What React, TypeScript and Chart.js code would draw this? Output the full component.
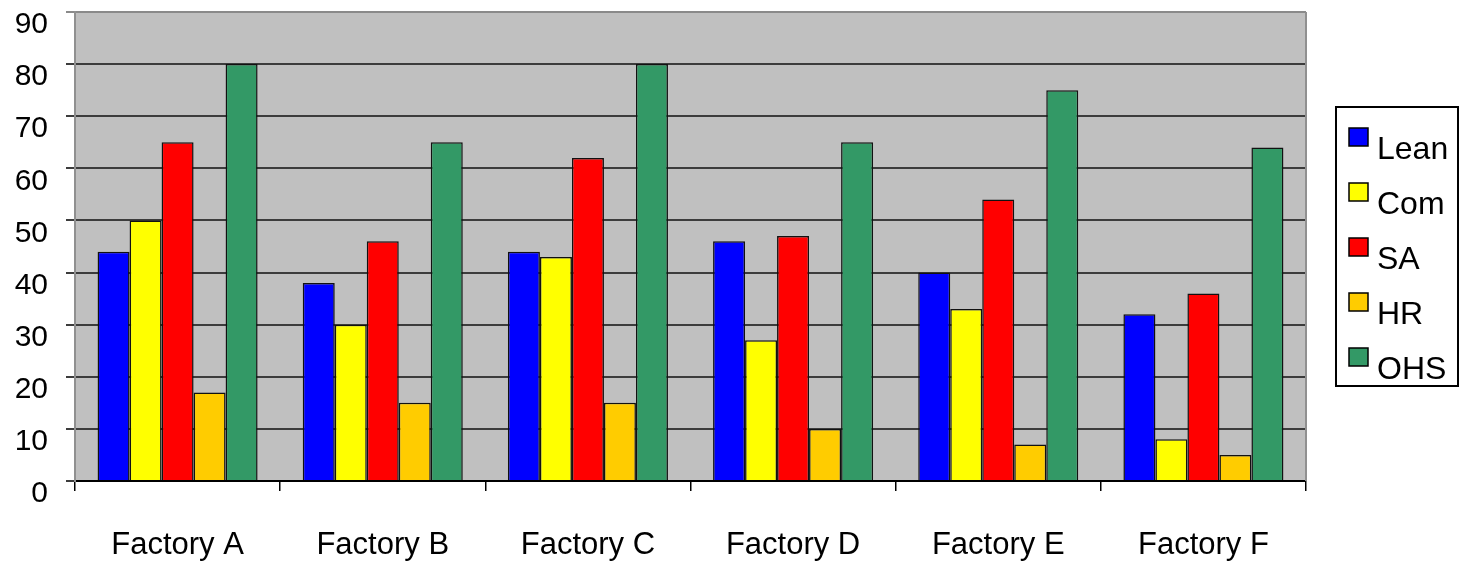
import React, { useEffect, useRef } from "react";
import { Chart, registerables } from "chart.js";

Chart.register(...registerables);

const categories = ["Factory A", "Factory B", "Factory C", "Factory D", "Factory E", "Factory F"];
const seriesNames = ["Lean", "Com", "SA", "HR", "OHS"];
const leanValues = [44, 38, 44, 46, 40, 32];
const comValues = [50, 30, 43, 27, 33, 8];
const saValues = [65, 46, 62, 47, 54, 36];
const hrValues = [17, 15, 15, 10, 7, 5];
const ohsValues = [80, 65, 80, 65, 75, 64];
const seriesColors = ["#0000FF", "#FFFF00", "#FF0000", "#FFCC00", "#339966"];
const yTickValues = [0, 10, 20, 30, 40, 50, 60, 70, 80, 90];

const FONT = "'Liberation Sans', Arial, sans-serif";

const plotBg = {
  id: "plotBg",
  beforeDraw(chart: any) {
    const { ctx, chartArea } = chart;
    ctx.save();
    ctx.fillStyle = "#C0C0C0";
    ctx.fillRect(chartArea.left, chartArea.top, chartArea.right - chartArea.left, chartArea.bottom - chartArea.top);
    ctx.restore();
  },
  afterDraw(chart: any) {
    const { ctx, chartArea } = chart;
    ctx.save();
    ctx.strokeStyle = "#909090";
    ctx.lineWidth = 2;
    ctx.beginPath();
    ctx.moveTo(chartArea.right, chartArea.top);
    ctx.lineTo(chartArea.right, chartArea.bottom);
    ctx.stroke();
    ctx.restore();
  },
};

const boxLegend = {
  id: "boxLegend",
  afterDraw(chart: any) {
    const { ctx } = chart;
    const x0 = 1336;
    const y0 = 107;
    const w = 122;
    const h = 279;
    ctx.save();
    ctx.fillStyle = "#FFFFFF";
    ctx.fillRect(x0, y0, w, h);
    ctx.strokeStyle = "#000000";
    ctx.lineWidth = 2;
    ctx.strokeRect(x0, y0, w, h);
    ctx.font = `32px ${FONT}`;
    ctx.textBaseline = "middle";
    ctx.textAlign = "left";
    chart.data.datasets.forEach((ds: any, i: number) => {
      const cy = 148 + i * 55;
      ctx.fillStyle = ds.backgroundColor;
      ctx.fillRect(1349, cy - 20, 19, 18);
      ctx.strokeStyle = "#000000";
      ctx.lineWidth = 1.5;
      ctx.strokeRect(1349, cy - 20, 19, 18);
      ctx.fillStyle = "#000000";
      ctx.fillText(ds.label, 1377, cy + 2);
    });
    ctx.restore();
  },
};

export default function App() {
  const ref = useRef<HTMLCanvasElement>(null);
  useEffect(() => {
    document.body.style.margin = "0";
    const seriesValues = [leanValues, comValues, saValues, hrValues, ohsValues];
    const chart = new Chart(ref.current as HTMLCanvasElement, {
      type: "bar",
      data: {
        labels: categories,
        datasets: seriesNames.map((name, i) => ({
          label: name,
          data: seriesValues[i],
          backgroundColor: seriesColors[i],
          borderColor: "#111111",
          borderWidth: 1.5,
          categoryPercentage: 0.78,
          barPercentage: 1.0,
        })),
      },
      options: {
        animation: false,
        responsive: false,
        devicePixelRatio: 1,
        layout: { padding: { top: 12, right: 153, left: 0, bottom: 0 } },
        plugins: { legend: { display: false }, tooltip: { enabled: false } },
        scales: {
          x: {
            afterFit: (scale: any) => {
              scale.height = 82;
              scale.paddingLeft = 0;
              scale.paddingRight = 0;
            },
            grid: {
              display: true,
              drawOnChartArea: false,
              drawTicks: true,
              tickLength: 10,
              offset: true,
              color: "#000000",
              lineWidth: 1.5,
            },
            border: { display: true, color: "#000000", width: 2 },
            ticks: {
              color: "#000000",
              font: { family: FONT, size: 31 },
              padding: 36,
              maxRotation: 0,
            },
          },
          y: {
            min: 0,
            max: 90,
            afterBuildTicks: (scale: any) => {
              scale.ticks = yTickValues.map((v) => ({ value: v }));
            },
            afterFit: (scale: any) => {
              scale.width = 75;
              scale.paddingTop = 0;
              scale.paddingBottom = 0;
            },
            grid: {
              color: (c: any) => (c.tick && c.tick.value === 90 ? "#8a8a8a" : "#3c3c3c"),
              lineWidth: 2,
              drawTicks: true,
              tickLength: 9,
            },
            border: { display: true, color: "#909090", width: 2 },
            ticks: {
              color: "#000000",
              font: { family: FONT, size: 30 },
              padding: 18,
              labelOffset: 13,
            },
          },
        },
      },
      plugins: [plotBg, boxLegend],
    });
    return () => chart.destroy();
  }, []);
  return (
    <div style={{ width: 1459, height: 563 }}>
      <canvas ref={ref} width={1459} height={563} style={{ width: 1459, height: 563, display: "block" }} />
    </div>
  );
}
